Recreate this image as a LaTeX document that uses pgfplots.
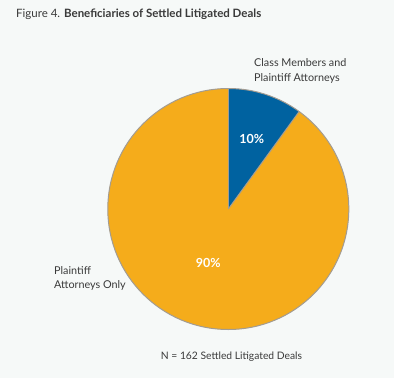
\documentclass[border=0pt]{standalone}
\usepackage{pgfplots}
\usepackage{pgfplotstable}
\pgfplotsset{compat=1.18}
\usepackage{fontspec}
\setmainfont{Lato}
\definecolor{bg}{HTML}{F6F9F8}
\definecolor{pblue}{HTML}{0062A0}
\definecolor{porange}{HTML}{F5AC1B}
\definecolor{edge}{HTML}{A39C92}
\definecolor{txt}{HTML}{3A3A3A}
\pgfplotstableread{
share
10
90
}\sharetable
\begin{document}
\begin{tikzpicture}
\pgfplotstablegetelem{0}{share}\of\sharetable \let\valA\pgfplotsretval
\pgfplotstablegetelem{1}{share}\of\sharetable \let\valB\pgfplotsretval
\pgfmathsetmacro{\angA}{90-3.6*\valA}
\pgfmathsetmacro{\angB}{\angA-3.6*\valB}
\begin{axis}[
  width=394bp, height=378bp, scale only axis,
  xmin=0, xmax=394, ymin=0, ymax=378, y dir=reverse,
  axis lines=none, clip=false,
]
\fill[bg] (axis cs:0,0) rectangle (axis cs:394,378);
\def\cx{228.3}\def\cy{209}\def\r{120.5bp}
\fill[pblue] (axis cs:\cx,\cy) -- ++(90:\r) arc[start angle=90, end angle=\angA, radius=\r] -- cycle;
\fill[porange] (axis cs:\cx,\cy) -- ++(\angA:\r) arc[start angle=\angA, end angle=\angB, radius=\r] -- cycle;
\draw[edge, line width=1bp] (axis cs:\cx,\cy) circle[radius=\r];
\draw[edge, line width=1bp] (axis cs:\cx,\cy) -- ++(90:\r);
\draw[edge, line width=1bp] (axis cs:\cx,\cy) -- ++(\angA:\r);
\node[anchor=base west, text=txt, inner sep=0pt, font=\fontsize{11.5bp}{13bp}\selectfont] at (axis cs:16,17.5) {Figure 4. \textbf{Beneficiaries of Settled Litigated Deals}};
\node[anchor=west, text=txt, inner sep=0pt, align=left, font=\fontsize{10.8bp}{15bp}\selectfont] at (axis cs:254,70.8) {Class Members and\\Plaintiff Attorneys};
\node[anchor=west, text=txt, inner sep=0pt, align=left, font=\fontsize{10.8bp}{13.5bp}\selectfont] at (axis cs:54,278.3) {Plaintiff\\Attorneys Only};
\node[text=white, inner sep=0pt, font=\fontsize{12.5bp}{14bp}\selectfont\bfseries] at (axis cs:251.7,139.3) {\valA\%};
\node[text=white, inner sep=0pt, font=\fontsize{12.5bp}{14bp}\selectfont\bfseries] at (axis cs:208.3,263.3) {\valB\%};
\node[anchor=west, text=txt, inner sep=0pt, font=\fontsize{10.3bp}{12bp}\selectfont] at (axis cs:160.7,356.7) {N = 162 Settled Litigated Deals};
\end{axis}
\end{tikzpicture}
\end{document}
